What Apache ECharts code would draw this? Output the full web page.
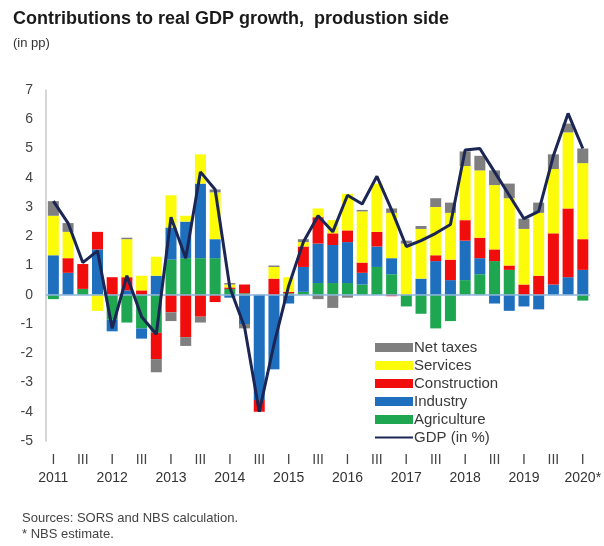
<!DOCTYPE html>
<html>
<head>
<meta charset="utf-8">
<script src="https://cdn.jsdelivr.net/npm/echarts@6/dist/echarts.min.js"></script>
<style>html,body{margin:0;padding:0;background:#fff;}#c{width:604px;height:546px;}</style>
</head>
<body>
<div id="c"></div>
<script>
const categories = ['2011 I','2011 II','2011 III','2011 IV','2012 I','2012 II','2012 III','2012 IV',
  '2013 I','2013 II','2013 III','2013 IV','2014 I','2014 II','2014 III','2014 IV',
  '2015 I','2015 II','2015 III','2015 IV','2016 I','2016 II','2016 III','2016 IV',
  '2017 I','2017 II','2017 III','2017 IV','2018 I','2018 II','2018 III','2018 IV',
  '2019 I','2019 II','2019 III','2019 IV','2020* I'];
const agriculture = [-0.15,0,0.2,0,-0.85,-0.95,-1.15,-1.3, 1.2,1.25,1.25,1.25,0.2,0.05,0,0,
  0.05,0.1,0.4,0.4,0.4,0.35,0.95,0.7, -0.4,-0.65,-1.15,-0.9,0.5,0.7,1.15,0.85, 0,0,0,0,-0.2];
const industry = [1.35,0.75,0,1.55,-0.4,0.15,-0.35,0.65, 1.1,1.25,2.55,0.65,-0.1,-1.0,-3.6,-2.55,
  -0.3,0.85,1.35,1.3,1.4,0.4,0.7,0.55, 0,0.55,1.15,0.5,1.35,0.55,-0.3,-0.55, -0.4,-0.5,0.35,0.6,0.85];
const construction = [0,0.5,0.85,0.6,0.6,0.45,0.15,-0.9, -0.6,-1.45,-0.75,-0.25,0.05,0.3,-0.4,0.55,
  0.05,0.7,0.9,0.4,0.4,0.35,0.5,-0.05, 0,0,0.2,0.7,0.7,0.7,0.4,0.15, 0.35,0.65,1.75,2.35,1.05];
const services = [1.35,0.9,0,-0.55,0,1.3,0.5,0.65, 1.1,0.2,1.0,1.6,0.1,0,0,0.4,
  0.5,0.15,0.3,0.45,1.25,1.75,1.65,1.55, 1.75,1.7,1.65,1.6,1.85,2.3,2.2,2.3, 1.9,2.15,2.2,2.6,2.6];
const netTaxes = [0.5,0.3,0,0,0,0.05,0,-0.45, -0.3,-0.3,-0.2,0.1,0.05,-0.15,0,0.05,
  0,0.1,-0.15,-0.45,-0.1,0.05,0,0.15, 0.1,0.1,0.3,0.35,0.5,0.5,0.5,0.5, 0.35,0.35,0.5,0.3,0.5];
const gdp = [3.2,2.45,1.1,1.5,-1.15,0.65,-0.75,-1.35, 2.65,1.25,4.2,3.6,0.25,-1.1,-4.0,-1.7,
  0.3,1.8,2.7,2.15,3.4,3.1,4.05,2.9, 1.65,1.85,2.1,2.4,4.95,5.0,4.2,3.4, 2.6,2.85,4.75,6.2,5.0];
const yTicks = {min: -5, max: 7, interval: 1};

const FONT = '"Liberation Sans", Arial, sans-serif';
const chart = echarts.init(document.getElementById('c'), null, {renderer: 'canvas'});
function barSeries(name, data, color, extra) {
  return Object.assign({
    name: name, type: 'bar', stack: 'total', data: data, barWidth: 11,
    itemStyle: {color: color}, emphasis: {disabled: true}
  }, extra || {});
}
chart.setOption({
  animation: false,
  backgroundColor: '#fff',
  title: {
    text: 'Contributions to real GDP growth,  produstion side',
    subtext: '(in pp)',
    left: 8, top: 5, itemGap: 9,
    textStyle: {fontFamily: FONT, fontSize: 18, fontWeight: 'bold', color: '#1a1a1a'},
    subtextStyle: {fontFamily: FONT, fontSize: 13, color: '#333'}
  },
  grid: {left: 46, right: 7, top: 90, bottom: 105, containLabel: false},
  legend: {
    orient: 'vertical', left: 370, top: 335, itemWidth: 38, itemHeight: 9, itemGap: 3,
    data: [
      {name: 'Net taxes', icon: 'rect'},
      {name: 'Services', icon: 'rect'},
      {name: 'Construction', icon: 'rect'},
      {name: 'Industry', icon: 'rect'},
      {name: 'Agriculture', icon: 'rect'},
      {name: 'GDP (in %)', icon: 'path://M0,0H38V2.2H0Z'}
    ],
    textStyle: {fontFamily: FONT, fontSize: 15, color: '#3a3a3a', padding: [0, 0, 0, -4]}
  },
  xAxis: {
    type: 'category', data: categories, boundaryGap: true,
    axisLine: {show: false}, axisTick: {show: false},
    axisLabel: {
      interval: 0, margin: 10,
      formatter: function (v) {
        const p = v.split(' ');
        if (p[1] === 'I') return '{q|I}\n{y|' + p[0] + '}';
        if (p[1] === 'III') return '{q|III}';
        return '';
      },
      rich: {
        q: {fontFamily: FONT, fontSize: 14, color: '#444', lineHeight: 18},
        y: {fontFamily: FONT, fontSize: 14, color: '#333', lineHeight: 18}
      }
    }
  },
  yAxis: {
    type: 'value', min: yTicks.min, max: yTicks.max, interval: yTicks.interval,
    axisLine: {show: true, lineStyle: {color: '#c8c8c8', width: 1.5}},
    axisTick: {show: false}, splitLine: {show: false},
    axisLabel: {fontFamily: FONT, fontSize: 14, color: '#444', margin: 13}
  },
  series: [
    barSeries('Agriculture', agriculture, '#1ea650', {
      markLine: {silent: true, symbol: 'none', label: {show: false},
        lineStyle: {color: '#8db4d9', width: 1.5, type: 'solid'},
        data: [{yAxis: 0}]}
    }),
    barSeries('Industry', industry, '#1f6fbf'),
    barSeries('Construction', construction, '#f20d0d'),
    barSeries('Services', services, '#fbfb0a'),
    barSeries('Net taxes', netTaxes, '#7f7f7f'),
    {
      name: 'GDP (in %)', type: 'line', data: gdp, symbol: 'none', z: 5,
      lineStyle: {color: '#1b2654', width: 3}, itemStyle: {color: '#1b2654'},
      emphasis: {disabled: true}
    }
  ],
  graphic: [
    {type: 'text', left: 22, top: 512, style: {text: 'Sources: SORS and NBS calculation.', font: '13px ' + FONT, fill: '#444'}},
    {type: 'text', left: 22, top: 528, style: {text: '* NBS estimate.', font: '13px ' + FONT, fill: '#444'}}
  ]
});
</script>
</body>
</html>
